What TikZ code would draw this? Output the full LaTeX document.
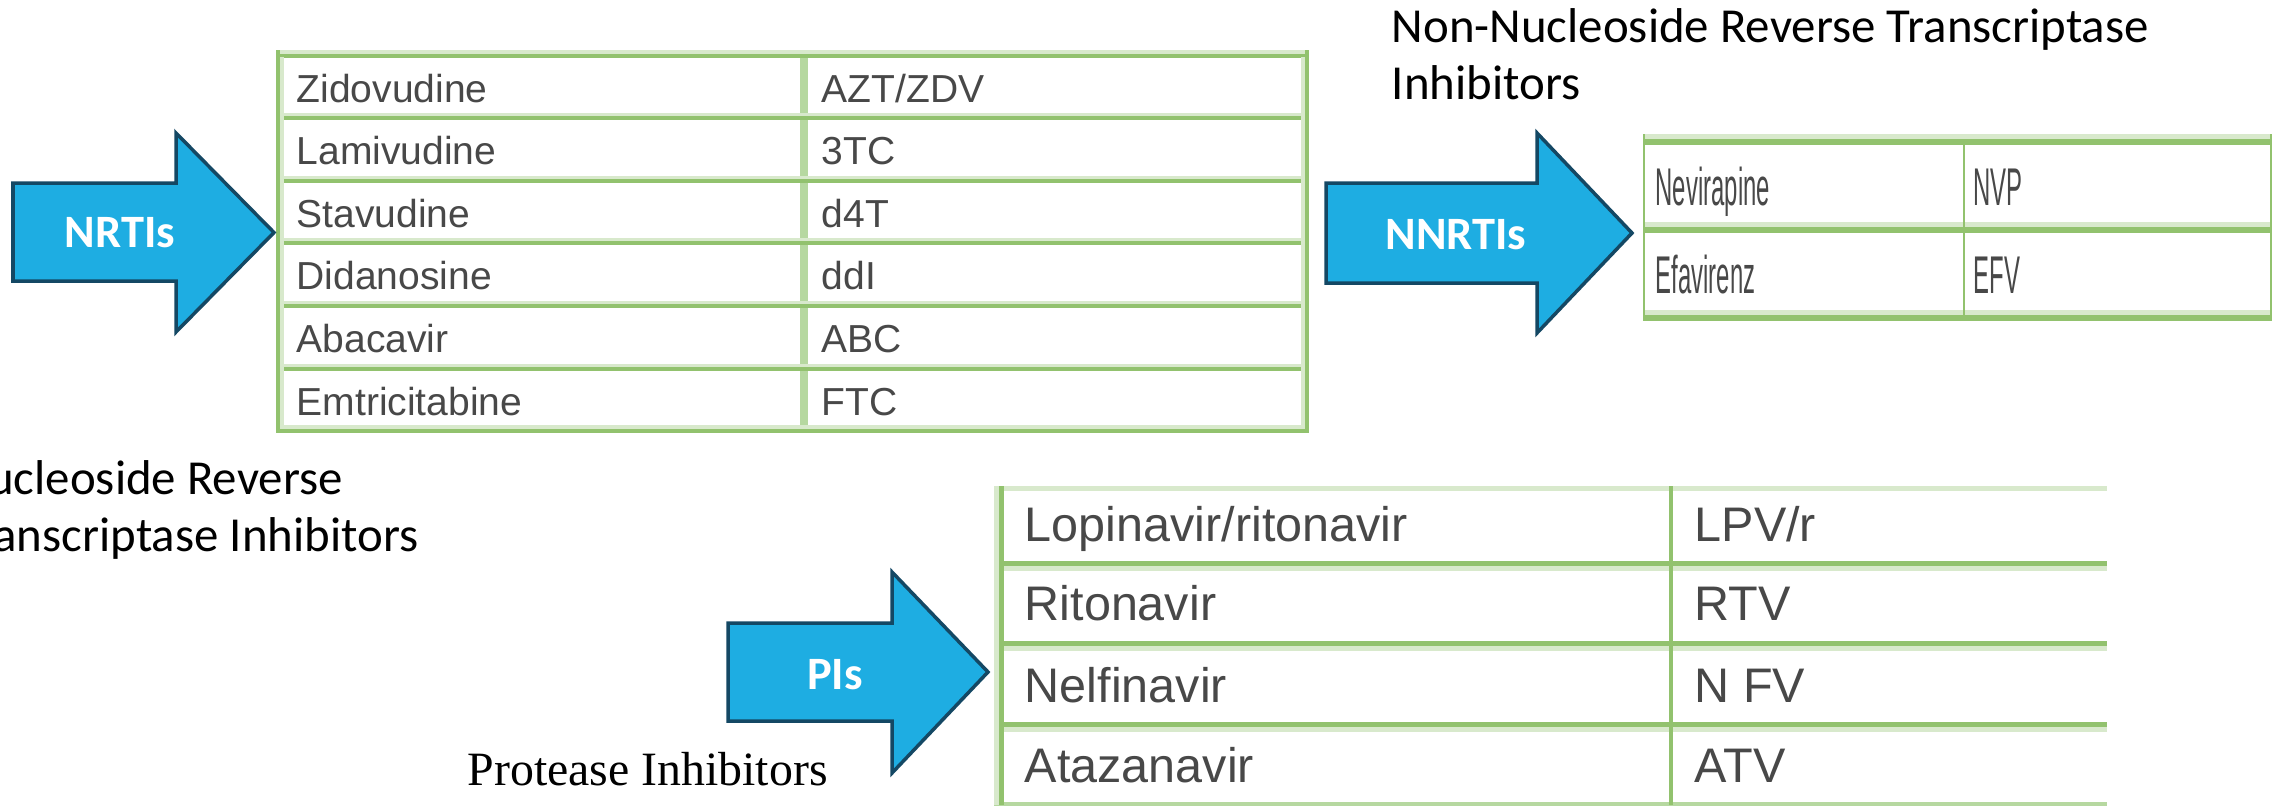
\documentclass[tikz,border=0pt]{standalone}
\usepackage{fontspec}
\usepackage{xcolor}
\usepackage{tikz}
\usetikzlibrary{positioning}

\newfontfamily\carlito{Carlito}
\newfontfamily\arialfont{Liberation Sans}
\newfontfamily\timesfont{Liberation Serif}
\newcommand\narrowtext[1]{\scalebox{0.45}[1]{#1}}

\definecolor{arrowblue}{RGB}{30,173,226}
\definecolor{arrowedge}{RGB}{20,72,100}
\definecolor{tabline}{RGB}{146,194,110}
\definecolor{tabpale}{RGB}{216,233,204}
\definecolor{tabmid}{RGB}{182,216,160}
\definecolor{celltext}{RGB}{72,72,72}

\tikzset{
    bigarrow/.style={fill=arrowblue, draw=arrowedge, line width=0.035cm, line join=miter},
    arrowtag/.style={text=white, inner sep=0pt, font=\carlito\bfseries\fontsize{13.2pt}{15pt}\selectfont},
    captext/.style={inner sep=0pt, anchor=base west, align=left, font=\carlito\fontsize{13.9pt}{16.2pt}\selectfont},
    darkrule/.style={draw=tabline, line width=0.045cm},
    palerule/.style={draw=tabpale, line width=0.045cm},
    nrticell/.style={text=celltext, inner sep=0pt, anchor=base west, font=\arialfont\fontsize{11.1pt}{13pt}\selectfont},
    nnrticell/.style={text=celltext, inner sep=0pt, anchor=base west, font=\arialfont\fontsize{15.1pt}{17pt}\selectfont},
    picell/.style={text=celltext, inner sep=0pt, anchor=base west, font=\arialfont\fontsize{13.8pt}{16pt}\selectfont}
}

\begin{document}
\begin{tikzpicture}[x=0.01cm, y=-0.01cm]
    \useasboundingbox (0,0) rectangle (2282,805);
    \clip (0,0) rectangle (2282,805);
    \fill[white] (0,0) rectangle (2282,805);

    % NRTI table
    \draw[tabmid, line width=0.08cm] (804,52) -- (804,431);
    \draw[palerule, line width=0.04cm] (276,52) -- (1308,52) (276,115) -- (1308,115) (276,177.7) -- (1308,177.7)
        (276,240.3) -- (1308,240.3) (276,302.9) -- (1308,302.9) (276,365.5) -- (1308,365.5) (276,427) -- (1308,427);
    \draw[darkrule, line width=0.04cm] (276,55.5) -- (1308,55.5) (276,118.1) -- (1308,118.1) (276,180.7) -- (1308,180.7)
        (276,243.3) -- (1308,243.3) (276,305.9) -- (1308,305.9) (276,368.5) -- (1308,368.5) (276,431) -- (1308,431);
    \draw[palerule, line width=0.04cm] (282,57) -- (282,429) (1303,57) -- (1303,429);
    \draw[darkrule, line width=0.04cm] (278,50) -- (278,433) (1306.5,50) -- (1306.5,433);

    \node[nrticell] (nrti1) at (296,102) {Zidovudine};
    \node[nrticell] (nrti2) at (296,164.6) {Lamivudine};
    \node[nrticell] (nrti3) at (296,227.2) {Stavudine};
    \node[nrticell] (nrti4) at (296,289.8) {Didanosine};
    \node[nrticell] (nrti5) at (296,352.4) {Abacavir};
    \node[nrticell] (nrti6) at (296,415) {Emtricitabine};
    \node[nrticell] (nrti1ab) at (821,102) {AZT/ZDV};
    \node[nrticell] (nrti2ab) at (821,164.6) {3TC};
    \node[nrticell] (nrti3ab) at (821,227.2) {d4T};
    \node[nrticell] (nrti4ab) at (821,289.8) {ddI};
    \node[nrticell] (nrti5ab) at (821,352.4) {ABC};
    \node[nrticell] (nrti6ab) at (821,415) {FTC};

    % NNRTI table
    \draw[palerule, line width=0.05cm] (1643,136.5) -- (2272,136.5) (1643,224.5) -- (2272,224.5) (1643,312.5) -- (2272,312.5);
    \draw[darkrule, line width=0.06cm] (1643,142) -- (2272,142) (1643,230) -- (2272,230) (1643,318) -- (2272,318);
    \draw[darkrule, line width=0.025cm] (1644,134) -- (1644,321) (1964,139) -- (1964,321) (2271,134) -- (2271,321);

    \node[nnrticell] (nnrti1) at (1655,205) {\narrowtext{Nevirapine}};
    \node[nnrticell] (nnrti2) at (1655,293) {\narrowtext{Efavirenz}};
    \node[nnrticell] (nnrti1ab) at (1973,205) {\narrowtext{NVP}};
    \node[nnrticell] (nnrti2ab) at (1973,293) {\narrowtext{EFV}};

    % PI table
    \draw[palerule, line width=0.05cm] (994,488.5) -- (2107,488.5) (994,568.5) -- (2107,568.5) (994,648.5) -- (2107,648.5)
        (994,729.5) -- (2107,729.5);
    \draw[darkrule, line width=0.05cm] (994,563.5) -- (2107,563.5) (994,643.5) -- (2107,643.5) (994,724.5) -- (2107,724.5);
    \draw[tabmid, line width=0.04cm] (994,803.5) -- (2107,803.5);
    \draw[palerule, line width=0.05cm] (996.5,486) -- (996.5,805);
    \draw[darkrule, line width=0.05cm] (1001.5,486) -- (1001.5,805);
    \draw[darkrule, line width=0.035cm] (1671,486) -- (1671,805);

    \node[picell] (pi1) at (1024,541) {Lopinavir/ritonavir};
    \node[picell] (pi2) at (1024,620) {Ritonavir};
    \node[picell] (pi3) at (1024,702) {Nelfinavir};
    \node[picell] (pi4) at (1024,782) {Atazanavir};
    \node[picell] (pi1ab) at (1694,541) {LPV/r};
    \node[picell] (pi2ab) at (1694,620) {RTV};
    \node[picell] (pi3ab) at (1694,702) {N FV};
    \node[picell] (pi4ab) at (1694,782) {ATV};

    % arrows
    \draw[bigarrow] (13,183) -- (176,183) -- (176,133) -- (274,232.5) -- (176,332) -- (176,281) -- (13,281) -- cycle;
    \draw[bigarrow] (1326,183) -- (1537,183) -- (1537,133) -- (1632,233) -- (1537,333) -- (1537,283) -- (1326,283) -- cycle;
    \draw[bigarrow] (728,623) -- (892,623) -- (892,572) -- (988,672) -- (892,773) -- (892,721) -- (728,721) -- cycle;
    \node[arrowtag] (nrtitag) at (120,233) {NRTIs};
    \node[arrowtag] (nnrtitag) at (1456,235) {NNRTIs};
    \node[arrowtag] (pitag) at (835,675) {PIs};

    % captions
    \node[captext] (nrticap) at (-44,551) {Nucleoside Reverse\\Transcriptase Inhibitors};
    \node[captext] (nnrticap) at (1391,99) {Non-Nucleoside Reverse Transcriptase\\Inhibitors};
    \node[inner sep=0pt, anchor=base west, font=\timesfont\fontsize{13.6pt}{16pt}\selectfont] (picap) at (467,785) {Protease Inhibitors};
\end{tikzpicture}
\end{document}
